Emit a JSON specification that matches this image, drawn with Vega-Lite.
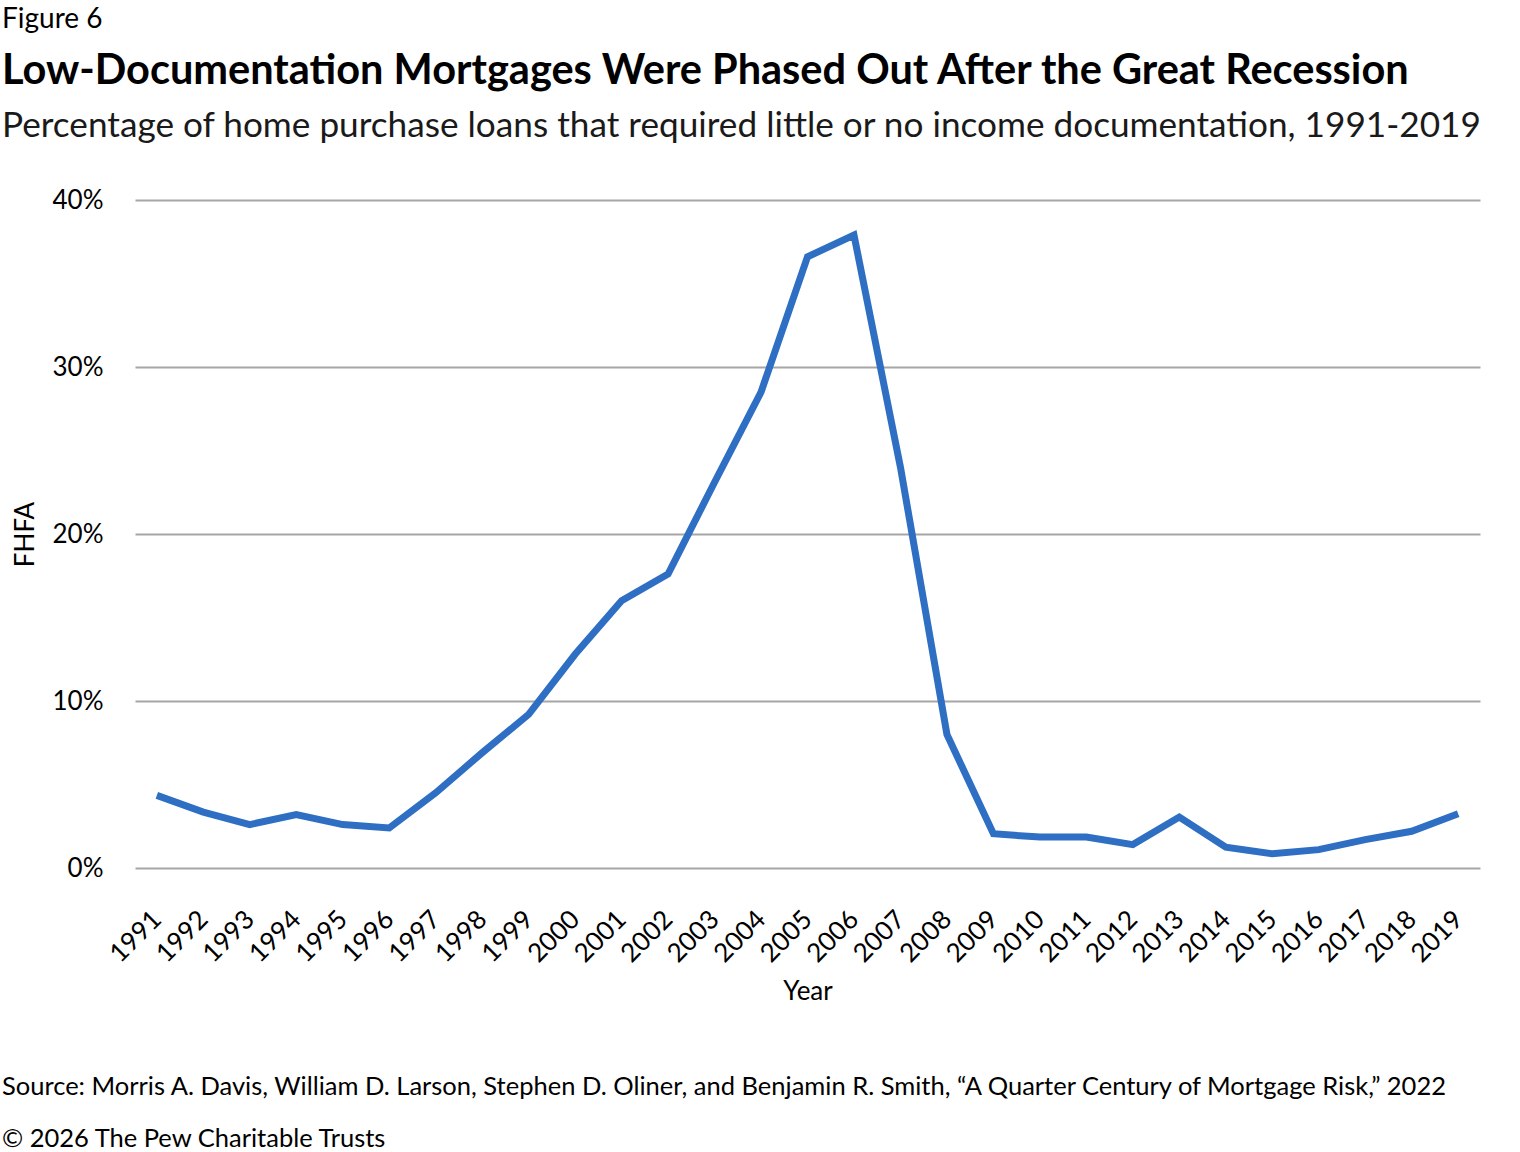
{
  "$schema": "https://vega.github.io/schema/vega-lite/v6.json",
  "background": "white",
  "padding": {"left": 2, "top": 6, "right": 10, "bottom": 5},
  "config": {
    "font": "Lato",
    "view": {"stroke": null},
    "concat": {"spacing": 0}
  },
  "title": {
    "text": "Figure 6",
    "anchor": "start",
    "frame": "bounds",
    "font": "Lato",
    "fontSize": 28,
    "fontWeight": "normal",
    "color": "#000000",
    "offset": 17
  },
  "vconcat": [
    {
      "title": {
        "text": [
          "Source: Morris A. Davis, William D. Larson, Stephen D. Oliner, and Benjamin R. Smith, \u201cA Quarter Century of Mortgage Risk,\u201d 2022",
          "\u00a9 2026 The Pew Charitable Trusts"
        ],
        "orient": "bottom",
        "anchor": "start",
        "frame": "bounds",
        "font": "Lato",
        "fontSize": 25.5,
        "fontWeight": "normal",
        "lineHeight": 52,
        "color": "#000000",
        "offset": 70
      },
      "vconcat": [
        {
          "title": {
            "text": "Low-Documentation Mortgages Were Phased Out After the Great Recession",
            "subtitle": "Percentage of home purchase loans that required little or no income documentation, 1991-2019",
            "anchor": "start",
            "frame": "bounds",
            "dx": -10,
            "font": "Lato",
            "fontSize": 41.5,
            "fontWeight": "bold",
            "color": "#000000",
            "subtitleFont": "Lato",
            "subtitleFontSize": 35.2,
            "subtitleColor": "#1a1a1a",
            "subtitlePadding": 16,
            "offset": 43
          },
          "width": 1345,
          "height": 668,
          "data": {
            "values": [
              {"year": "1991", "share": 4.35},
              {"year": "1992", "share": 3.35},
              {"year": "1993", "share": 2.6},
              {"year": "1994", "share": 3.2},
              {"year": "1995", "share": 2.6},
              {"year": "1996", "share": 2.4},
              {"year": "1997", "share": 4.5},
              {"year": "1998", "share": 6.9},
              {"year": "1999", "share": 9.2},
              {"year": "2000", "share": 12.8},
              {"year": "2001", "share": 16.0},
              {"year": "2002", "share": 17.6},
              {"year": "2003", "share": 23.1},
              {"year": "2004", "share": 28.5},
              {"year": "2005", "share": 36.6},
              {"year": "2006", "share": 37.9},
              {"year": "2007", "share": 24.0},
              {"year": "2008", "share": 8.0},
              {"year": "2009", "share": 2.05},
              {"year": "2010", "share": 1.85},
              {"year": "2011", "share": 1.85},
              {"year": "2012", "share": 1.4},
              {"year": "2013", "share": 3.05},
              {"year": "2014", "share": 1.25},
              {"year": "2015", "share": 0.85},
              {"year": "2016", "share": 1.1},
              {"year": "2017", "share": 1.7},
              {"year": "2018", "share": 2.2},
              {"year": "2019", "share": 3.25}
            ]
          },
          "mark": {
            "type": "line",
            "color": "#2e6fc4",
            "strokeWidth": 7,
            "strokeJoin": "miter"
          },
          "encoding": {
            "x": {
              "field": "year",
              "type": "ordinal",
              "title": "Year",
              "scale": {"type": "point", "padding": 0.47},
              "axis": {
                "labelAngle": -45,
                "labelAlign": "right",
                "labelBaseline": "middle",
                "labelFont": "Lato",
                "labelFontSize": 26,
                "labelColor": "#000000",
                "labelPadding": 47,
                "ticks": false,
                "domain": false,
                "titleFont": "Lato",
                "titleFontSize": 26,
                "titleFontWeight": "normal",
                "titleColor": "#000000",
                "titlePadding": 12
              }
            },
            "y": {
              "field": "share",
              "type": "quantitative",
              "title": "FHFA",
              "scale": {"domain": [0, 40]},
              "axis": {
                "values": [0, 10, 20, 30, 40],
                "labelExpr": "datum.value + '%'",
                "labelFont": "Lato",
                "labelFontSize": 26,
                "labelColor": "#000000",
                "labelPadding": 32,
                "ticks": false,
                "domain": false,
                "grid": true,
                "gridColor": "#a6a6a6",
                "gridWidth": 2,
                "titleFont": "Lato",
                "titleFontSize": 26,
                "titleFontWeight": "normal",
                "titleColor": "#000000",
                "titlePadding": 14
              }
            }
          }
        }
      ]
    }
  ]
}
